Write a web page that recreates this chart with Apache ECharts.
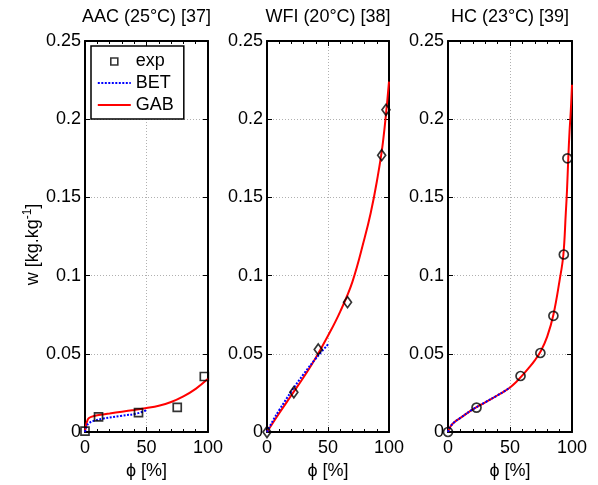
<!DOCTYPE html>
<html lang="en">
<head>
<meta charset="UTF-8">
<title>Sorption isotherms</title>
<script src="https://cdn.jsdelivr.net/npm/echarts@6/dist/echarts.min.js"></script>
<style>
    html, body { margin: 0; padding: 0; background: #fff; }
    #main { width: 598px; height: 485px; }
</style>
</head>
<body>
<div id="main"></div>
<script>
    // panel titles
    var titles = ['AAC (25°C) [37]', 'WFI (20°C) [38]', 'HC (23°C) [39]'];

    // AAC (25°C)
    var phi1Exp = [0, 11, 43.5, 75, 97];
    var w1Exp = [0.0005, 0.0097, 0.0124, 0.0158, 0.0355];
    var phi1Bet = [0, 1, 3, 7, 15, 29, 42, 50];
    var w1Bet = [0, 0.003, 0.0055, 0.0071, 0.0086, 0.0103, 0.0118, 0.0139];
    var phi1Gab = [0, 1, 2, 3, 5, 10, 20, 30, 40, 50, 60, 70, 80, 90, 100];
    var w1Gab = [0, 0.005, 0.0075, 0.0088, 0.0097, 0.0107, 0.0118, 0.013, 0.0141, 0.0153, 0.0168, 0.0192, 0.0228, 0.0276, 0.034];

    // WFI (20°C)
    var phi2Exp = [0, 22, 42, 66, 94, 97.5];
    var w2Exp = [0, 0.0254, 0.0528, 0.083, 0.177, 0.206];
    var phi2Bet = [0, 5, 10, 20, 30, 40, 50];
    var w2Bet = [0, 0.0075, 0.014, 0.026, 0.037, 0.047, 0.056];
    var phi2Gab = [0, 10, 20, 30, 40, 50, 60, 70, 80, 85, 90, 95, 100];
    var w2Gab = [0, 0.012, 0.0235, 0.035, 0.0475, 0.0615, 0.077, 0.096, 0.124, 0.14, 0.16, 0.185, 0.224];

    // HC (23°C)
    var phi3Exp = [0, 23, 58.5, 74.5, 85, 93.4, 96.3];
    var w3Exp = [0, 0.0156, 0.0358, 0.0505, 0.0743, 0.1135, 0.175];
    var phi3Bet = [0, 2, 5, 10, 20, 30, 40, 45, 50];
    var w3Bet = [0, 0.0035, 0.0062, 0.009, 0.0145, 0.019, 0.0235, 0.0258, 0.0285];
    var phi3Gab = [0, 2, 5, 10, 20, 30, 40, 45, 50, 55, 60, 65, 70, 75, 80, 85, 90, 93, 95, 96, 97, 98, 99, 100];
    var w3Gab = [0, 0.0035, 0.0062, 0.009, 0.0145, 0.019, 0.0235, 0.0258, 0.0285, 0.032, 0.0362, 0.0408, 0.0458, 0.052, 0.061, 0.075, 0.097, 0.113, 0.14, 0.155, 0.175, 0.192, 0.205, 0.222];

    var FONT = 'Liberation Sans, Arial, sans-serif';

    function pairs(xs, ys) {
        return xs.map(function (x, i) { return [x, ys[i]]; });
    }

    var panels = [
        { exp: pairs(phi1Exp, w1Exp), bet: pairs(phi1Bet, w1Bet), gab: pairs(phi1Gab, w1Gab), symbol: 'rect', size: 8 },
        { exp: pairs(phi2Exp, w2Exp), bet: pairs(phi2Bet, w2Bet), gab: pairs(phi2Gab, w2Gab), symbol: 'diamond', size: [8, 11] },
        { exp: pairs(phi3Exp, w3Exp), bet: pairs(phi3Bet, w3Bet), gab: pairs(phi3Gab, w3Gab), symbol: 'circle', size: 9 }
    ];

    var grids = [
        { left: 85, top: 41, width: 123, height: 396 },
        { left: 267, top: 41, width: 122, height: 396 },
        { left: 448, top: 41, width: 124, height: 396 }
    ];

    var frameLine = { show: true, onZero: false, lineStyle: { color: '#000', width: 2 } };
    var tick = { show: true, inside: true, length: 5, lineStyle: { color: '#000', width: 1 } };
    var minor = { show: true, splitNumber: 5, length: 3, lineStyle: { color: '#000', width: 1 } };
    var gridLine = { show: true, lineStyle: { color: '#b0b0b0', type: [1, 2], width: 1 } };

    var xAxes = [], yAxes = [], series = [];

    grids.forEach(function (g, i) {
        // bottom and top x axes
        xAxes.push({
            type: 'value', gridIndex: i, position: 'bottom', min: 0, max: 100, interval: 50,
            axisLine: frameLine, axisTick: tick, minorTick: minor, splitLine: gridLine,
            axisLabel: { color: '#000', fontFamily: FONT, fontSize: 18, margin: 7 },
            name: 'ϕ [%]', nameLocation: 'middle', nameGap: 30,
            nameTextStyle: { color: '#000', fontFamily: FONT, fontSize: 18 }
        });
        xAxes.push({
            type: 'value', gridIndex: i, position: 'top', min: 0, max: 100, interval: 50,
            axisLine: frameLine, axisTick: tick, minorTick: minor,
            splitLine: { show: false }, axisLabel: { show: false },
            name: titles[i], nameLocation: 'middle', nameGap: 15,
            nameTextStyle: { color: '#000', fontFamily: FONT, fontSize: 18 }
        });
        // left and right y axes
        var left = {
            type: 'value', gridIndex: i, position: 'left', min: 0, max: 0.25, interval: 0.05,
            axisLine: frameLine, axisTick: tick, splitLine: gridLine,
            axisLabel: { color: '#000', fontFamily: FONT, fontSize: 18, margin: 4 }
        };
        if (i === 0) {
            left.name = '{a|w [kg.kg}{s|-1}{a|]}';
            left.nameLocation = 'middle';
            left.nameRotate = 90;
            left.nameGap = 41;
            left.nameTextStyle = {
                color: '#000', padding: [0, 16, 0, 0],
                rich: {
                    a: { fontFamily: FONT, fontSize: 18, color: '#000', lineHeight: 22 },
                    s: { fontFamily: FONT, fontSize: 12, color: '#000', verticalAlign: 'top', lineHeight: 22 }
                }
            };
        }
        yAxes.push(left);
        yAxes.push({
            type: 'value', gridIndex: i, position: 'right', min: 0, max: 0.25, interval: 0.05,
            axisLine: frameLine, axisTick: tick, splitLine: { show: false }, axisLabel: { show: false }
        });

        var p = panels[i];
        series.push({
            name: 'GAB', type: 'line', xAxisIndex: 2 * i, yAxisIndex: 2 * i, data: p.gab,
            showSymbol: false, symbol: 'none', smooth: 0.4,
            lineStyle: { color: '#ff0000', width: 2 }, itemStyle: { color: '#ff0000' }, z: 3
        });
        series.push({
            name: 'BET', type: 'line', xAxisIndex: 2 * i, yAxisIndex: 2 * i, data: p.bet,
            showSymbol: false, symbol: 'none', smooth: 0.4,
            lineStyle: { color: '#0000ff', width: 2, type: [2, 1.5] }, itemStyle: { color: '#0000ff' }, z: 4
        });
        series.push({
            name: 'exp', type: 'scatter', xAxisIndex: 2 * i, yAxisIndex: 2 * i, data: p.exp,
            symbol: p.symbol, symbolSize: p.size,
            itemStyle: { color: 'rgba(0,0,0,0)', borderColor: '#000', borderWidth: 1.7 }, z: 5
        });
    });

    // legend icons: small square for exp, dotted and solid strokes for the fits
    var dotted = 'path://M0,0M33,14';
    for (var d = 0; d < 33; d += 3.5) {
        dotted += 'M' + d + ',6L' + Math.min(d + 2, 33) + ',6L' + Math.min(d + 2, 33) + ',8L' + d + ',8Z';
    }
    var solid = 'path://M0,0M33,14M0,6L33,6L33,8L0,8Z';

    var chart = echarts.init(document.getElementById('main'));
    chart.setOption({
        animation: false,
        backgroundColor: '#fff',
        grid: grids,
        xAxis: xAxes,
        yAxis: yAxes,
        legend: {
            orient: 'vertical', left: 91, top: 46,
            padding: [6, 10, 5, 6], itemGap: 4, itemWidth: 33, itemHeight: 14,
            backgroundColor: '#fff', borderColor: '#000', borderWidth: 1.5,
            textStyle: { color: '#000', fontFamily: FONT, fontSize: 18, lineHeight: 18 },
            data: [
                { name: 'exp', icon: 'path://M0,0M33,14M13,4L20,4L20,11L13,11Z',
                  itemStyle: { color: 'rgba(0,0,0,0)', borderColor: '#000', borderWidth: 1.6 } },
                { name: 'BET', icon: dotted, itemStyle: { color: '#0000ff', borderWidth: 0 } },
                { name: 'GAB', icon: solid, itemStyle: { color: '#ff0000', borderWidth: 0 } }
            ]
        },
        series: series
    });
</script>
</body>
</html>
